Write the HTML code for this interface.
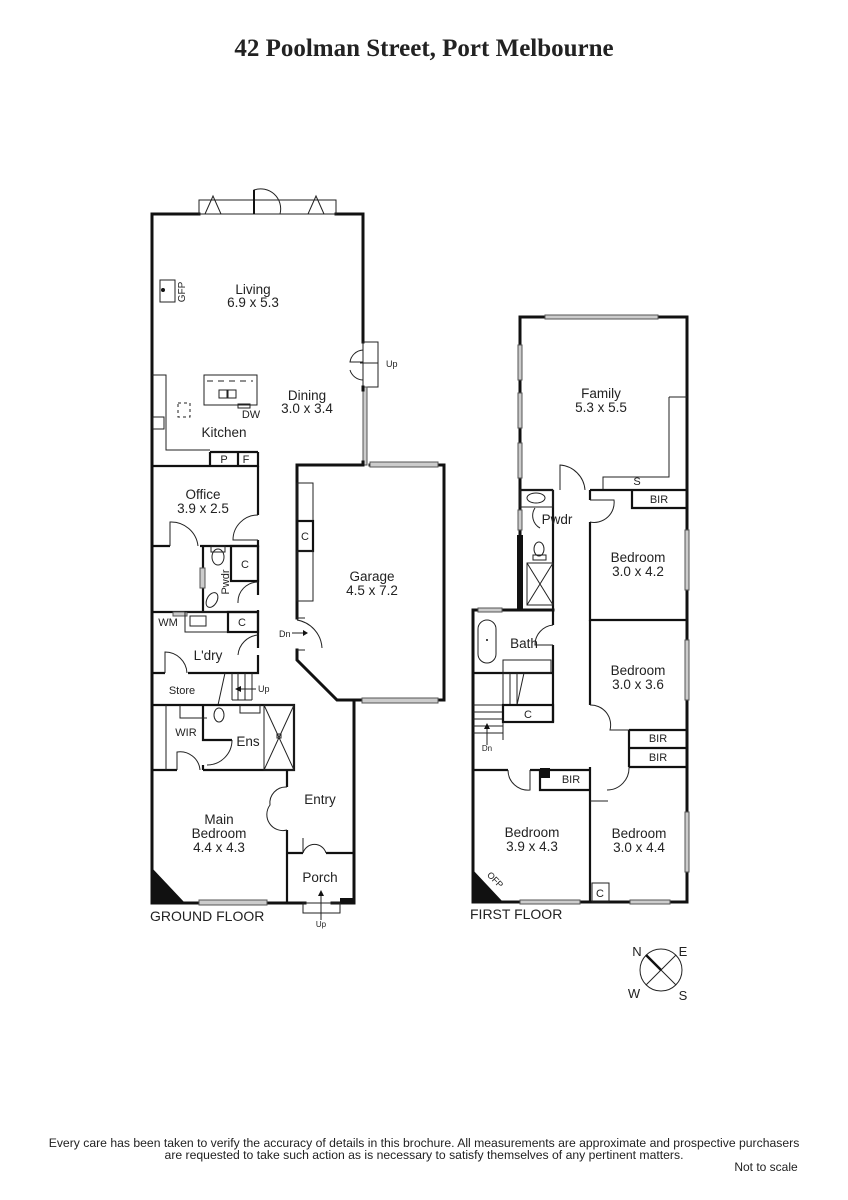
<!DOCTYPE html>
<html><head><meta charset="utf-8"><style>
html,body{margin:0;padding:0;background:#fff;width:848px;height:1200px;overflow:hidden}
svg{display:block}
text{font-family:"Liberation Sans",sans-serif;fill:#222}
.w{stroke:#111;stroke-width:3;fill:none;stroke-linecap:square}
.i{stroke:#111;stroke-width:2.2;fill:none}
.t{stroke:#222;stroke-width:1;fill:none}
.win{stroke:#555;stroke-width:1;fill:#ccc}
.l{font-size:13.5px;text-anchor:middle}
.s{font-size:11px;text-anchor:middle}
</style></head><body>
<svg width="848" height="1200" viewBox="0 0 848 1200" xmlns="http://www.w3.org/2000/svg">
<text x="424" y="56" style="font-family:'Liberation Serif',serif;font-weight:bold;font-size:25px" text-anchor="middle" fill="#111">42 Poolman Street, Port Melbourne</text>

<!-- GROUND FLOOR -->
<path class="w" d="M199,214 H152 V903 H287 M305,903 H287 M332,903 H354 V700"/>
<path class="w" d="M336,214 H363 V342"/>
<rect x="199" y="200" width="137" height="14" class="t"/>
<path class="t" d="M205,214 L213,196 L221,214 M308,214 L316,196 L324,214 M254,214 V190 A20,20 0 0 1 280,214"/>
<line x1="254" y1="190" x2="254" y2="214" stroke="#111" stroke-width="2"/>
<rect x="363" y="342" width="15" height="45" class="t"/>
<path class="t" d="M363,350 A14,14 0 0 0 350,362 L363,362 M363,380 A14,14 0 0 1 350,370"/>
<line x1="378" y1="363" x2="360" y2="363" class="t"/><text x="386" y="367" style="font-size:9px">Up</text>
<rect x="363" y="387" width="4" height="78" class="win"/>
<path class="w" d="M363,387 V390 M363,462 V465 H297 V618 M297,650 V660 L337,700 H444 V465 H370"/>
<rect x="370" y="462" width="68" height="5" class="win"/>
<rect x="362" y="698" width="76" height="5" class="win"/>
<rect x="297" y="483" width="16" height="38" class="t"/>
<rect x="297" y="521" width="16" height="30" class="i"/><text x="305" y="540" class="s">C</text>
<rect x="297" y="551" width="16" height="50" class="t"/>
<path class="t" d="M297,618 H305 M297,650 H305 M297,620 A30,30 0 0 1 322,648"/>
<text x="279" y="637" style="font-size:9px">Dn</text><line x1="292" y1="633" x2="306" y2="633" class="t"/><path d="M303,630 L308,633 L303,636Z" fill="#111"/>
<text x="372" y="581" class="l">Garage</text><text x="372" y="595" class="l">4.5 x 7.2</text>
<path class="t" d="M152,375 H166 V450 H210"/>
<path class="i" d="M152,466 H258 V452 M210,452 V466 M238,452 V466 M210,452 H258"/>
<text x="224" y="463" class="s">P</text><text x="246" y="463" class="s">F</text>
<rect x="204" y="375" width="53" height="30" class="t"/>
<path class="t" d="M207,381 H253" stroke-dasharray="6,5"/>
<rect x="219" y="390" width="8" height="8" class="t"/><rect x="228" y="390" width="8" height="8" class="t"/>
<rect x="238" y="404" width="12" height="4" class="t"/>
<text x="251" y="418" class="s">DW</text>
<rect x="153" y="417" width="11" height="12" class="t"/>
<rect x="178" y="403" width="12" height="14" class="t" stroke-dasharray="3,3"/>
<rect x="160" y="280" width="15" height="22" class="t"/><circle cx="163" cy="290" r="2" fill="#111"/>
<text x="185" y="292" class="s" transform="rotate(-90 185 292)" style="font-size:10px">GFP</text>
<text x="253" y="294" class="l">Living</text><text x="253" y="307" class="l">6.9 x 5.3</text>
<text x="307" y="400" class="l">Dining</text><text x="307" y="413" class="l">3.0 x 3.4</text>
<text x="224" y="437" class="l">Kitchen</text>
<path class="i" d="M258,466 V515 M258,540 V546 H200 M170,546 H152"/>
<path class="t" d="M258,515 A25,25 0 0 0 233,540 H258 M170,546 V522 A27,27 0 0 1 198,546"/>
<text x="203" y="499" class="l">Office</text><text x="203" y="513" class="l">3.9 x 2.5</text>
<path class="i" d="M203,546 V612 M258,546 V595 M258,610 V612"/>
<rect x="231" y="546" width="27" height="35" class="i"/><text x="245" y="568" class="s">C</text>
<rect x="200" y="568" width="5" height="20" class="win"/>
<ellipse cx="218" cy="557" rx="6" ry="8" class="t"/><rect x="211" y="546" width="14" height="6" class="t"/>
<ellipse cx="212" cy="600" rx="5" ry="8" class="t" transform="rotate(30 212 600)"/>
<path class="t" d="M258,582 A20,20 0 0 0 238,603"/>
<text x="229" y="582" class="s" transform="rotate(-90 229 582)">Pwdr</text>
<path class="i" d="M152,612 H258 V628 M258,648 V612 M258,655 V673 H188 M165,673 H152"/>
<rect x="173" y="612" width="14" height="4" class="win"/>
<rect x="185" y="612" width="43" height="20" class="t"/><rect x="190" y="616" width="16" height="10" class="t"/>
<rect x="228" y="612" width="30" height="20" class="i"/><text x="242" y="626" class="s">C</text>
<text x="168" y="626" class="s">WM</text>
<path class="t" d="M258,635 A22,22 0 0 0 238,655 M165,673 V652 A22,22 0 0 1 187,673"/>
<text x="208" y="660" class="l">L'dry</text>
<text x="182" y="694" class="s">Store</text>
<path class="t" d="M218,705 L225,673 M232,673 V700 M238,673 V700 M245,673 V700 M252,673 V700 M232,700 H252"/>
<line x1="238" y1="689" x2="256" y2="689" class="t"/><path d="M241,686 L235,689 L241,692Z" fill="#111"/><text x="258" y="692" style="font-size:9px">Up</text>
<path class="i" d="M152,705 H294 V770 H203 M177,770 H152 M203,705 V740 H232 M203,765 V770"/>
<path class="t" d="M166,705 V770 M180,705 V718 H207 M232,740 A25,25 0 0 1 207,765 M177,770 V752 A20,20 0 0 1 200,770"/>
<rect x="264" y="705" width="30" height="65" class="t"/>
<path class="t" d="M264,705 L294,770 M294,705 L264,770"/><rect x="277" y="734" width="4" height="4" class="t"/>
<ellipse cx="219" cy="715" rx="5" ry="7" class="t"/>
<rect x="240" y="705" width="20" height="8" class="t"/>
<text x="186" y="736" class="s">WIR</text>
<text x="248" y="746" class="l">Ens</text>
<path class="i" d="M287,770 V787 M287,830 V903 M287,853 H303 M326,853 H354"/>
<path class="t" d="M287,787 A16,16 0 0 0 270,805 A16,16 0 0 0 287,830 M303,853 A12,12 0 0 1 326,853 M303,853 V838"/>
<polygon points="152,868 152,903 185,903" fill="#111"/>
<rect x="199" y="900" width="68" height="5" class="win"/>
<rect x="303" y="903" width="37" height="10" class="t"/>
<polygon points="340,903 354,903 354,898 340,898" fill="#111"/>
<line x1="321" y1="920" x2="321" y2="893" class="t"/><path d="M318,896 L321,890 L324,896Z" fill="#111"/>
<text x="321" y="927" style="font-size:8px" text-anchor="middle">Up</text>
<text x="219" y="824" class="l">Main</text><text x="219" y="838" class="l">Bedroom</text><text x="219" y="852" class="l">4.4 x 4.3</text>
<text x="320" y="804" class="l">Entry</text>
<text x="320" y="882" class="l">Porch</text>
<text x="150" y="921" style="font-size:14px">GROUND FLOOR</text>

<!-- FIRST FLOOR -->
<path class="w" d="M520,610 V317 H687 V902 H473 V610 H553"/>
<rect x="545" y="315" width="113" height="4" class="win"/>
<rect x="518" y="345" width="4" height="35" class="win"/><rect x="518" y="393" width="4" height="35" class="win"/><rect x="518" y="443" width="4" height="35" class="win"/><rect x="518" y="510" width="4" height="20" class="win"/>
<rect x="685" y="530" width="4" height="60" class="win"/><rect x="685" y="640" width="4" height="60" class="win"/><rect x="685" y="812" width="4" height="60" class="win"/>
<rect x="517" y="535" width="6" height="75" fill="#111"/>
<rect x="478" y="608" width="24" height="4" class="win"/>
<path class="t" d="M669,397 H687 M669,397 V477 H603 V490"/>
<path class="i" d="M520,490 H553 M590,490 H687 M632,490 V508 H687 M553,490 V610 M590,490 V500"/>
<path class="t" d="M560,490 V465 A27,27 0 0 1 585,490 M590,500 H614 A20,20 0 0 1 590,522"/>
<path class="i" d="M590,522 V620 H687"/>
<rect x="520" y="490" width="33" height="17" class="t"/><ellipse cx="536" cy="498" rx="9" ry="5" class="t"/>
<path class="t" d="M535,508 A14,14 0 0 0 540,528"/>
<ellipse cx="539" cy="549" rx="5" ry="7" class="t"/><rect x="533" y="555" width="13" height="5" class="t"/>
<rect x="527" y="563" width="26" height="42" class="t"/><path class="t" d="M527,563 L553,605 M553,563 L527,605"/>
<text x="637" y="485" class="s">S</text><text x="659" y="503" class="s">BIR</text>
<text x="557" y="524" class="l">Pwdr</text>
<text x="601" y="398" class="l">Family</text><text x="601" y="412" class="l">5.3 x 5.5</text>
<text x="638" y="562" class="l">Bedroom</text><text x="638" y="576" class="l">3.0 x 4.2</text>
<path class="i" d="M553,610 V625 M553,645 V722 M473,673 H553"/>
<path class="t" d="M553,625 A20,20 0 0 0 535,645 H553"/>
<rect x="478" y="620" width="18" height="43" rx="9" class="t"/><circle cx="487" cy="640" r="1" fill="#111"/>
<rect x="503" y="660" width="48" height="13" class="t"/>
<text x="524" y="648" class="l">Bath</text>
<path class="t" d="M503,673 V705 M510,673 V705 M517,673 V705 M524,673 L517,705 M473,705 H503 V740 M473,712 H503 M473,719 H503 M473,726 H503 M473,733 H503"/>
<rect x="503" y="705" width="50" height="17" class="i"/><text x="528" y="718" class="s">C</text>
<line x1="487" y1="745" x2="487" y2="727" class="t"/><path d="M484,729 L487,723 L490,729Z" fill="#111"/>
<text x="487" y="751" style="font-size:8px" text-anchor="middle">Dn</text>
<path class="i" d="M590,620 V705 M629,730 H687 M629,748 H687 M629,767 H687 M629,730 V767 M590,767 V902 M473,770 H508 M530,770 H590 M540,770 V790 H590 V767"/>
<path class="t" d="M590,705 A20,20 0 0 1 610,730 H629 M508,770 A20,20 0 0 0 530,790 V770 M629,767 A22,22 0 0 1 607,790 M590,801 H608"/>
<text x="638" y="675" class="l">Bedroom</text><text x="638" y="689" class="l">3.0 x 3.6</text>
<text x="658" y="742" class="s">BIR</text><text x="658" y="761" class="s">BIR</text>
<rect x="540" y="768" width="10" height="10" fill="#111"/>
<text x="571" y="783" class="s">BIR</text>
<text x="532" y="837" class="l">Bedroom</text><text x="532" y="851" class="l">3.9 x 4.3</text>
<text x="639" y="838" class="l">Bedroom</text><text x="639" y="852" class="l">3.0 x 4.4</text>
<polygon points="473,870 473,902 503,902" fill="#111"/>
<text x="493" y="882" style="font-size:9px" transform="rotate(45 493 882)" text-anchor="middle">OFP</text>
<rect x="520" y="900" width="60" height="4" class="win"/><rect x="630" y="900" width="40" height="4" class="win"/>
<rect x="592" y="883" width="17" height="19" class="t"/><text x="600" y="897" class="s">C</text>
<text x="470" y="919" style="font-size:14px">FIRST FLOOR</text>

<circle cx="661" cy="970" r="21" class="t"/>
<line x1="646" y1="955" x2="676" y2="985" class="t"/><line x1="646" y1="985" x2="676" y2="955" class="t"/>
<line x1="646" y1="955" x2="661" y2="970" stroke="#111" stroke-width="2.5"/>
<text x="637" y="956" style="font-size:13px" text-anchor="middle">N</text>
<text x="683" y="956" style="font-size:13px" text-anchor="middle">E</text>
<text x="634" y="998" style="font-size:13px" text-anchor="middle">W</text>
<text x="683" y="1000" style="font-size:13px" text-anchor="middle">S</text>

<text x="424" y="1147" style="font-size:12.2px" text-anchor="middle">Every care has been taken to verify the accuracy of details in this brochure.  All measurements are approximate and prospective purchasers</text>
<text x="424" y="1159" style="font-size:12.2px" text-anchor="middle">are requested to take such action as is necessary to satisfy themselves of any pertinent matters.</text>
<text x="766" y="1171" style="font-size:12px" text-anchor="middle">Not to scale</text>
</svg>
</body></html>
